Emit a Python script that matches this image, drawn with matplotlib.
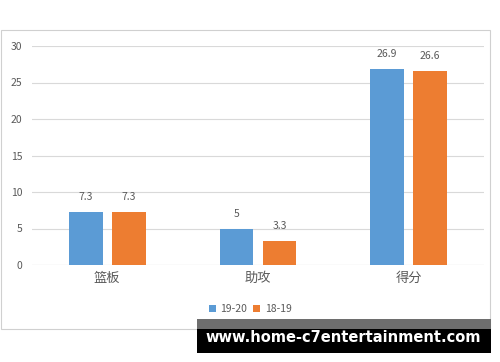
import matplotlib
matplotlib.use("Agg")
import matplotlib.pyplot as plt
from matplotlib.patches import Rectangle
import numpy as np

plt.rcParams['font.family'] = ['Noto Sans CJK SC', 'DejaVu Sans']

categories = ["篮板", "助攻", "得分"]
series_names = ["19-20", "18-19"]
values_1920 = [7.3, 5, 26.9]
values_1819 = [7.3, 3.3, 26.6]
value_labels_1920 = ["7.3", "5", "26.9"]
value_labels_1819 = ["7.3", "3.3", "26.6"]
yticks = [0, 5, 10, 15, 20, 25, 30]

blue = "#5B9BD5"
orange = "#ED7D31"
text_c = "#595959"

fig = plt.figure(figsize=(5, 3.62), dpi=100)
# outer chart border
fig.patches.append(Rectangle((1/500, 1-329/362), 489/500, 299/362, transform=fig.transFigure,
                             fill=False, edgecolor="#D0D0D0", linewidth=0.8))

ax = fig.add_axes([32/500, 1-265/362, 452/500, 219/362])
x = np.arange(len(categories))
w = 0.225
off = 0.143
b1 = ax.bar(x - off, values_1920, w, color=blue, label=series_names[0], zorder=3)
b2 = ax.bar(x + off, values_1819, w, color=orange, label=series_names[1], zorder=3)
for rects, labs in ((b1, value_labels_1920), (b2, value_labels_1819)):
    for r, l in zip(rects, labs):
        ax.text(r.get_x() + r.get_width()/2, r.get_height() + 1.3, l, ha="center", va="bottom",
                fontsize=7.5, color=text_c)

ax.set_xlim(-0.5, 2.5)
ax.set_ylim(0, 30)
ax.set_yticks(yticks)
ax.set_yticklabels([str(t) for t in yticks], fontsize=7.5, color=text_c)
ax.set_xticks(x)
ax.set_xticklabels(categories, fontsize=9.5, color=text_c)
ax.tick_params(axis="both", length=0)
ax.tick_params(axis="y", pad=7)
ax.tick_params(axis="x", pad=5)
ax.grid(axis="y", color="#D9D9D9", linewidth=0.8, zorder=0)
for s in ax.spines.values():
    s.set_visible(False)
ax.axhline(0, color="#D9D9D9", linewidth=0.8, zorder=1)

leg = fig.legend(loc="center", bbox_to_anchor=(250/500, 1-309/362), ncol=2, frameon=False,
                 fontsize=7.5, handlelength=0.7, handleheight=0.7, handletextpad=0.4,
                 columnspacing=0.6, labelcolor=text_c)

# watermark
fig.patches.append(Rectangle((197/500, 1-329/362), 294/500, 10/362, transform=fig.transFigure,
                             facecolor="#6E6E6E", edgecolor="none"))
fig.patches.append(Rectangle((197/500, 1-353/362), 294/500, 24/362, transform=fig.transFigure,
                             facecolor="black", edgecolor="none"))
fig.text(343/500, 1-338/362, "www.home-c7entertainment.com", ha="center", va="center",
         color="white", fontsize=10.5, fontweight="bold", family="DejaVu Sans")

fig.savefig("out.png", dpi=100)
